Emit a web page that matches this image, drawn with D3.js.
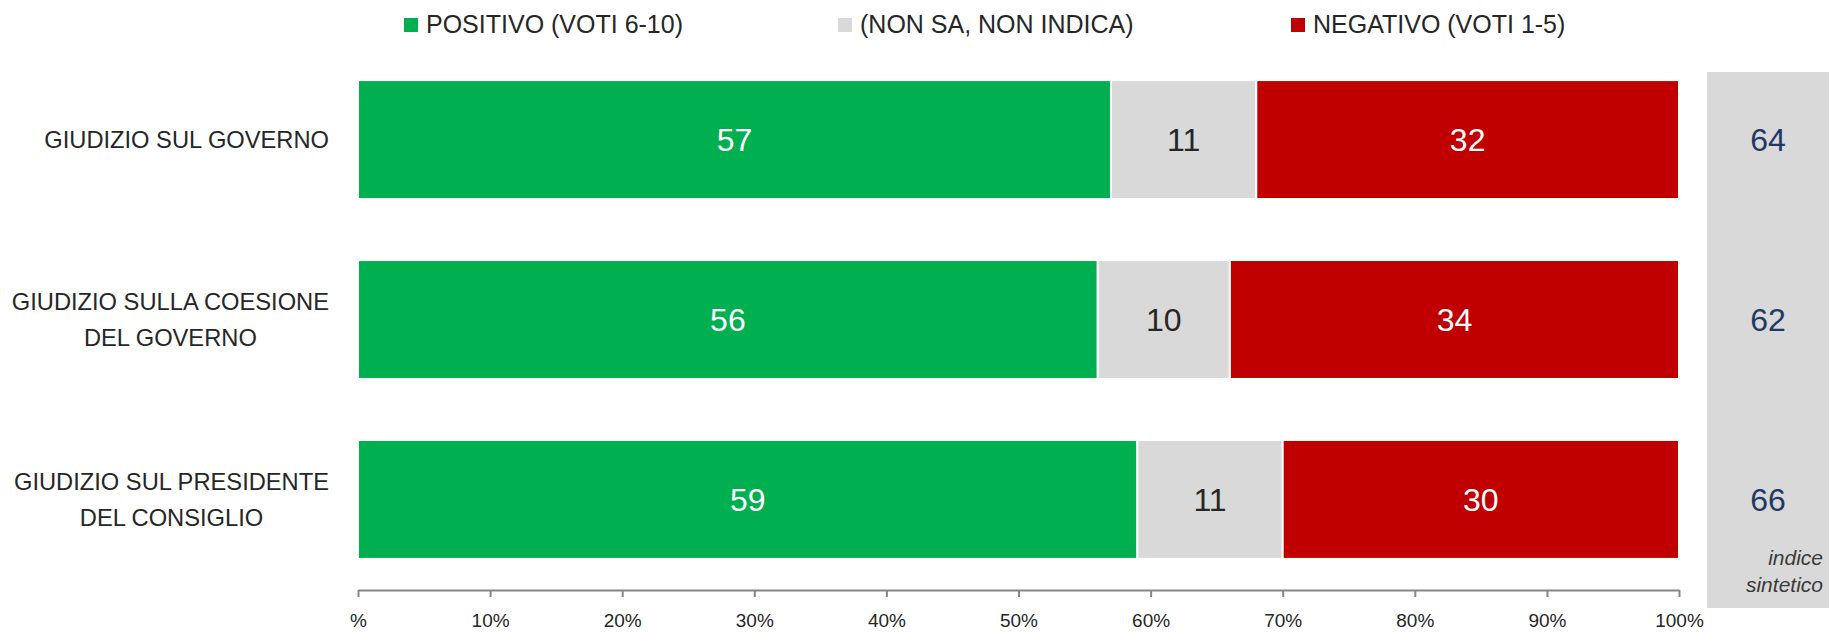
<!DOCTYPE html>
<html>
<head>
<meta charset="utf-8">
<script src="https://cdn.jsdelivr.net/npm/d3@7"></script>
<style>
  body { margin: 0; background: #fff; }
  svg { display: block; font-family: 'Liberation Sans', Arial, sans-serif; }
</style>
</head>
<body>
<div id="chart"></div>
<script>
// data
const categories = ['GIUDIZIO SUL GOVERNO', 'GIUDIZIO SULLA COESIONE\nDEL GOVERNO', 'GIUDIZIO SUL PRESIDENTE\nDEL CONSIGLIO']
const positivo = [57, 56, 59]
const nonSa = [11, 10, 11]
const negativo = [32, 34, 30]
const indice = [64, 62, 66]
const seriesNames = ['POSITIVO (VOTI 6-10)', '(NON SA, NON INDICA)', 'NEGATIVO (VOTI 1-5)']
const seriesColors = ['#00B050', '#D9D9D9', '#C00000']
const labelColors = ['#ffffff', '#262626', '#ffffff']
const tickValues = [0, 10, 20, 30, 40, 50, 60, 70, 80, 90, 100]

let width = 1829
let height = 632

let svg = d3.select('#chart')
  .append('svg')
  .attr('width', width)
  .attr('height', height)

let rows = categories.map((c, i) => ({ cat: c, pos: positivo[i], ns: nonSa[i], neg: negativo[i] }))
let keys = ['pos', 'ns', 'neg']
let stacked = d3.stack().keys(keys)(rows)

let x = d3.scaleLinear().domain([0, 100]).range([358, 1679])
let y = d3.scaleBand().domain(categories).range([49.5, 589.5]).paddingInner(0.339).paddingOuter(0.17)

// indice sintetico panel
svg.append('rect')
  .attr('x', 1707).attr('y', 72)
  .attr('width', width - 1707).attr('height', 608 - 72)
  .attr('fill', '#D9D9D9')

svg.append('g')
  .selectAll('text')
  .data(indice)
  .enter()
  .append('text')
  .attr('x', 1768)
  .attr('y', (d, i) => y(categories[i]) + y.bandwidth() / 2)
  .attr('dy', '0.36em')
  .attr('text-anchor', 'middle')
  .attr('font-size', 32)
  .attr('fill', '#1F3864')
  .text(d => d)

svg.append('text')
  .attr('x', 1823).attr('y', 565)
  .attr('text-anchor', 'end')
  .attr('font-size', 21)
  .attr('font-style', 'italic')
  .attr('fill', '#3a3a3a')
  .text('indice')
svg.append('text')
  .attr('x', 1823).attr('y', 592)
  .attr('text-anchor', 'end')
  .attr('font-size', 21)
  .attr('font-style', 'italic')
  .attr('fill', '#3a3a3a')
  .text('sintetico')

// bars
let layer = svg.append('g')
  .selectAll('g')
  .data(stacked)
  .enter()
  .append('g')
  .attr('fill', (d, i) => seriesColors[i])

layer.selectAll('rect')
  .data(d => d)
  .enter()
  .append('rect')
  .attr('x', d => x(d[0]))
  .attr('y', d => y(d.data.cat))
  .attr('width', d => x(d[1]) - x(d[0]))
  .attr('height', y.bandwidth())
  .attr('stroke', '#fff')
  .attr('stroke-width', 2)

// value labels
stacked.forEach((s, si) => {
  svg.append('g')
    .selectAll('text')
    .data(s)
    .enter()
    .append('text')
    .attr('x', d => (x(d[0]) + x(d[1])) / 2)
    .attr('y', d => y(d.data.cat) + y.bandwidth() / 2)
    .attr('dy', '0.36em')
    .attr('text-anchor', 'middle')
    .attr('font-size', 32)
    .attr('fill', labelColors[si])
    .text(d => d[1] - d[0])
})

// category labels: block right-aligned, lines centred inside it
categories.forEach(c => {
  let lines = c.split('\n')
  let cy = y(c) + y.bandwidth() / 2
  let g = svg.append('g')
  let t = g.selectAll('text')
    .data(lines)
    .enter()
    .append('text')
    .attr('font-size', 23.7)
    .attr('fill', '#262626')
    .attr('y', (d, i) => cy + 8.5 + (i - (lines.length - 1) / 2) * 36)
    .text(d => d)
  let maxW = d3.max(t.nodes(), n => n.getComputedTextLength())
  t.attr('text-anchor', 'middle').attr('x', 329 - maxW / 2)
})

// x axis
let axis = svg.append('g')
  .attr('transform', 'translate(0,590)')
  .call(d3.axisBottom(x)
    .tickValues(tickValues)
    .tickSize(7)
    .tickSizeOuter(0)
    .tickPadding(16.5)
    .tickFormat(d => d === 0 ? '%' : d + '%'))
axis.select('.domain').attr('stroke', '#868686').attr('stroke-width', 2)
axis.selectAll('.tick line').attr('stroke', '#868686').attr('stroke-width', 2)
axis.selectAll('.tick text')
  .attr('font-size', 19)
  .attr('font-family', "'Liberation Sans', Arial, sans-serif")
  .attr('fill', '#262626')

// legend
let legendX = [404, 838, 1291]
let legend = svg.append('g')
  .selectAll('g')
  .data(seriesNames)
  .enter()
  .append('g')
  .attr('transform', (d, i) => `translate(${legendX[i]},0)`)
legend.append('rect')
  .attr('y', 18)
  .attr('width', 14)
  .attr('height', 14)
  .attr('fill', (d, i) => seriesColors[i])
legend.append('text')
  .attr('x', 22)
  .attr('y', 33)
  .attr('font-size', 25)
  .attr('fill', '#262626')
  .text(d => d)
</script>
</body>
</html>
